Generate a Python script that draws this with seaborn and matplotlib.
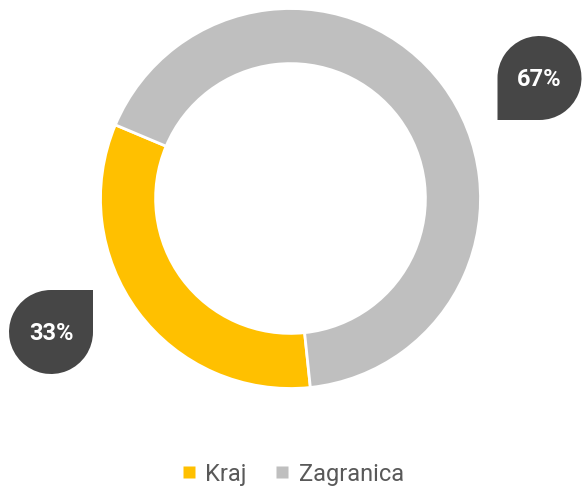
import numpy as np
import matplotlib
matplotlib.use("Agg")
import matplotlib.pyplot as plt
from matplotlib.path import Path
from matplotlib.patches import PathPatch
from matplotlib.lines import Line2D
import seaborn as sns

categories = ["Kraj", "Zagranica"]
shares = [33, 67]
labels = ["33%", "67%"]
colors = ["#FFC000", "#BFBFBF"]

sns.set_theme(style="white")
plt.rcParams['font.family'] = ['Roboto', 'DejaVu Sans']

W, H = 583, 489
fig = plt.figure(figsize=(W / 100, H / 100), dpi=100)

# donut, centre (290, 200) px, radius 190 px
cx, cy, r = 290.5, 199.5, 190
ax = fig.add_axes([(cx - r) / W, (H - cy - r) / H, 2 * r / W, 2 * r / H])
ax.pie(shares, colors=colors, startangle=-84, counterclock=False, radius=1,
       wedgeprops=dict(width=0.29, edgecolor="white", linewidth=2))
ax.set_xlim(-1, 1)
ax.set_ylim(-1, 1)
ax.axis("off")

# overlay in pixel coords for callout bubbles
ov = fig.add_axes([0, 0, 1, 1])
ov.set_xlim(0, W)
ov.set_ylim(H, 0)
ov.axis("off")


def bubble(center, rad, corner_dir):
    # round shape with one sharp corner (corner_dir gives the quadrant)
    bx, by = center
    sx, sy = corner_dir
    corner_ang = np.degrees(np.arctan2(-sy, sx))
    start = corner_ang + 45
    arc = Path.arc(start, start + 270)
    verts = [(bx + v[0] * rad, by - v[1] * rad) for v in arc.vertices]
    codes = list(arc.codes)
    verts.append((bx + sx * rad, by + sy * rad))
    codes.append(Path.LINETO)
    verts.append(verts[0])
    codes.append(Path.CLOSEPOLY)
    return PathPatch(Path(verts, codes), facecolor="#464646", edgecolor="none")


bubble_pos = [((51, 333), (1, -1)), ((539.5, 79), (-1, 1))]
for (c, d), lab in zip(bubble_pos, labels):
    ov.add_patch(bubble(c, 42, d))
    ov.text(c[0], c[1] + 1, lab, color="white", fontsize=17, fontweight="bold",
            ha="center", va="center")

handles = [Line2D([], [], marker="s", linestyle="none", markersize=8,
                  markerfacecolor=col, markeredgecolor="none") for col in colors]
fig.legend(handles, categories, loc="center", bbox_to_anchor=(0.5, 1 - 475 / H),
           ncol=2, frameon=False, fontsize=17, labelcolor="#595959",
           handletextpad=0.3, columnspacing=1.1, handlelength=0.8)

fig.savefig("out.png", dpi=100, facecolor="white")
